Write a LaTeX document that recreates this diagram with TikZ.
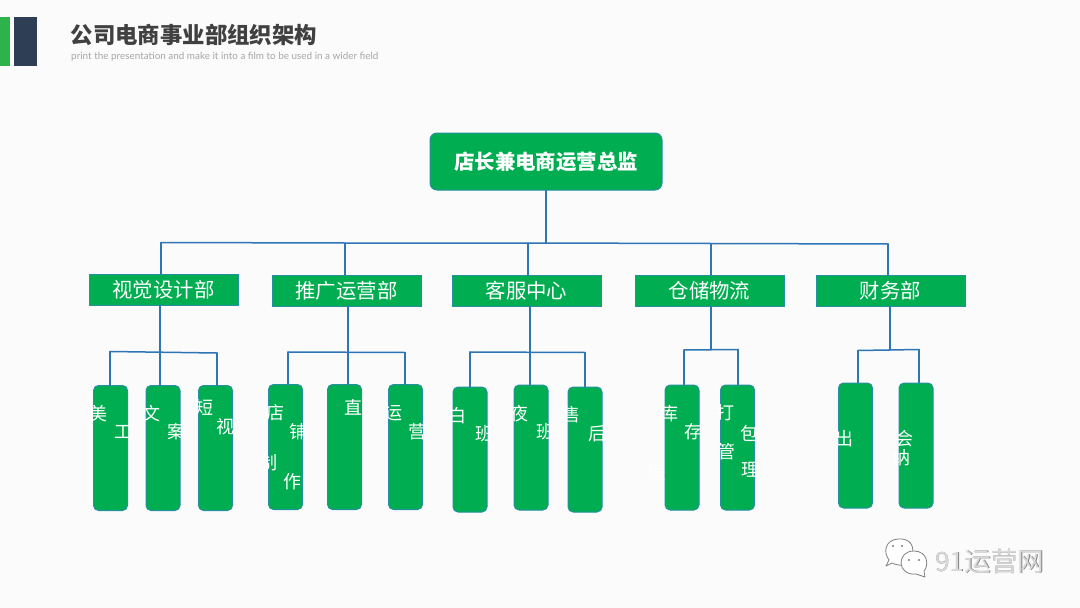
\documentclass[tikz,border=0pt]{standalone}
\usepackage{fontspec}
\setmainfont{Noto Sans CJK SC}
\newfontfamily\latinfont{Lato}
\definecolor{pagebg}{HTML}{FBFBFC}
\definecolor{boxgreen}{HTML}{00AD50}
\definecolor{boxedge}{HTML}{2490A0}
\definecolor{linkblue}{HTML}{2E75B6}
\definecolor{titlegray}{HTML}{404040}
\definecolor{subgray}{HTML}{A6A6A6}
\definecolor{barleft}{HTML}{2DB34A}
\definecolor{barright}{HTML}{2D3E55}
\definecolor{markgray}{HTML}{808080}
\tikzset{
  topbox/.style={draw=boxedge,line width=1pt,fill=boxgreen,rounded corners=7pt,minimum width=232pt,minimum height=57pt,inner sep=0pt,text=white,font=\fontsize{20.4}{20.4}\selectfont\bfseries},
  deptbox/.style={draw=boxedge,line width=.6pt,fill=boxgreen,minimum width=149pt,minimum height=31pt,inner sep=0pt,text=white,font=\fontsize{20.4}{20.4}\selectfont},
  rolebox/.style={draw=boxedge,line width=1pt,fill=boxgreen,rounded corners=5pt,minimum width=34pt,minimum height=125pt,inner sep=0pt},
  glyph/.style={inner sep=0pt,text=white,font=\fontsize{18}{18}\selectfont},
  link/.style={draw=linkblue,line width=1.5pt,line cap=round,line join=round},
  bubble/.style={draw=markgray,line width=.8pt,fill=white,line join=round}
}
\begin{document}
\begin{tikzpicture}[x=1pt,y=-1pt]
\useasboundingbox (0,0) rectangle (1080,608);
\fill[pagebg] (0,0) rectangle (1080,608);
% header
\fill[barleft] (0,17) rectangle (10,66);
\fill[barright] (14,17) rectangle (37,66);
\node[anchor=west,inner sep=0pt,text=titlegray,font=\fontsize{22.4}{22.4}\selectfont\bfseries] (title) at (70.5,35) {公司电商事业部组织架构};
\node[anchor=west,inner sep=0pt,text=subgray,font=\latinfont\fontsize{9.9}{10}\selectfont] (subtitle) at (71,57) {print the presentation and make it into a film to be used in a wider field};
% boxes
\node[topbox] (top) at (546,161.5) {店长兼电商运营总监};
\node[deptbox] (A) at (163.5,289.5) {视觉设计部};
\node[deptbox] (B) at (346.5,290.5) {推广运营部};
\node[deptbox] (C) at (526.5,290.5) {客服中心};
\node[deptbox] (D) at (709.5,290.5) {仓储物流};
\node[deptbox] (E) at (890.5,290.5) {财务部};
\foreach \n/\x/\y in {r1/110.5/448,r2/163/448,r3/215.5/448,r4/285.5/447,r5/344.5/447,r6/405.5/447,r7/470/449.5,r8/531/447.5,r9/585/449.5,r10/682/447.5,r11/737.5/447.5,r12/855.5/445.5,r13/916/445.5}
  \node[rolebox] (\n) at (\x,\y) {};
% connectors
\coordinate (bus) at (top.south |- 0,243);
\coordinate (busA) at (161,242.5);
\coordinate (busB) at (345,243);
\coordinate (busC) at (528,243);
\coordinate (busD) at (711,243.5);
\coordinate (busE) at (888,244);
\draw[link] (top.south) -- (bus);
\draw[link] (busA) -- (busB) -- (busC) -- (busD) -- (busE);
\foreach \b/\d in {busA/A,busB/B,busC/C,busD/D,busE/E}
  \draw[link] (\b) -- (\b |- \d.north);
% group A
\coordinate (a0) at (160,352);
\coordinate (a1) at (110,351.5);
\coordinate (a3) at (217,353);
\draw[link] (a0 |- A.south) -- (a0 |- r2.north);
\draw[link] (a1) -- (a3);
\draw[link] (a1) -- (a1 |- r1.north);
\draw[link] (a3) -- (a3 |- r3.north);
% group B
\coordinate (b0) at (348,352);
\coordinate (b1) at (288,352);
\coordinate (b3) at (405,352.5);
\draw[link] (b0 |- B.south) -- (b0 |- r5.north);
\draw[link] (b1) -- (b3);
\draw[link] (b1) -- (b1 |- r4.north);
\draw[link] (b3) -- (b3 |- r6.north);
% group C
\coordinate (c0) at (530,352);
\coordinate (c1) at (470,352);
\coordinate (c3) at (585,352.5);
\draw[link] (c0 |- C.south) -- (c0 |- r8.north);
\draw[link] (c1) -- (c3);
\draw[link] (c1) -- (c1 |- r7.north);
\draw[link] (c3) -- (c3 |- r9.north);
% group D
\coordinate (d0) at (711,349.5);
\coordinate (d1) at (684,350);
\coordinate (d3) at (738,349.5);
\draw[link] (d0 |- D.south) -- (d0);
\draw[link] (d1) -- (d3);
\draw[link] (d1) -- (d1 |- r10.north);
\draw[link] (d3) -- (d3 |- r11.north);
% group E
\coordinate (e0) at (890,350);
\coordinate (e1) at (858,350.5);
\coordinate (e3) at (919,349.5);
\draw[link] (e0 |- E.south) -- (e0);
\draw[link] (e1) -- (e3);
\draw[link] (e1) -- (e1 |- r12.north);
\draw[link] (e3) -- (e3 |- r13.north);
% staggered role characters
\foreach \n/\x/\y/\c in {
  g1/98/414/美,g2/123/432/工,
  g3/151/414/文,g4/176/432/案,
  g5/204/408/短,g6/225/427/视,
  g7/275/413/店,g8/298/432/铺,
  g9/268/463/制,g10/292/482/作,
  g11/353/407/直,
  g12/393/413/运,g13/417/432/营,
  g14/457/416/白,g15/484/434/班,
  g16/519/414/夜,g17/545/432/班,
  g18/571/415/售,g19/597/434/后,
  g20/669/414/库,g21/693/432/存,g22/656/473/理,
  g23/725/413/打,g24/749/433/包,
  g25/726/452/管,g26/750/470/理,
  g27/844/439/出,
  g28/904/439/会,g29/901/458/纳}
  \node[glyph] (\n) at (\x,\y) {\c};
% watermark
\draw[bubble] (889,560) .. controls (883,552) and (885,540) .. (898,539) .. controls (910,538) and (915,546) .. (912,556) -- (905,566) .. controls (900,565) and (896,565) .. (892,563) -- (886,566) -- cycle;
\draw[bubble] (914,551) .. controls (905,551) and (901,557) .. (901,563) .. controls (901,570) and (908,575) .. (916,574) -- (925,577) -- (924,571) .. controls (929,566) and (928,551) .. (914,551) -- cycle;
\foreach \n/\x/\y in {eye1/893/546,eye2/902/546,eye3/909/560,eye4/919/560}
  \fill[markgray] (\x,\y) circle (1.1pt) coordinate (\n);
\node[anchor=west,inner sep=0pt,text=markgray,font=\fontsize{26.5}{26.5}\selectfont] (markb) at (935.6,561.4) {91运营网};
\node[anchor=west,inner sep=0pt,text=white!70!markgray,font=\fontsize{26.5}{26.5}\selectfont] (markf) at (935,561) {91运营网};
\end{tikzpicture}
\end{document}
